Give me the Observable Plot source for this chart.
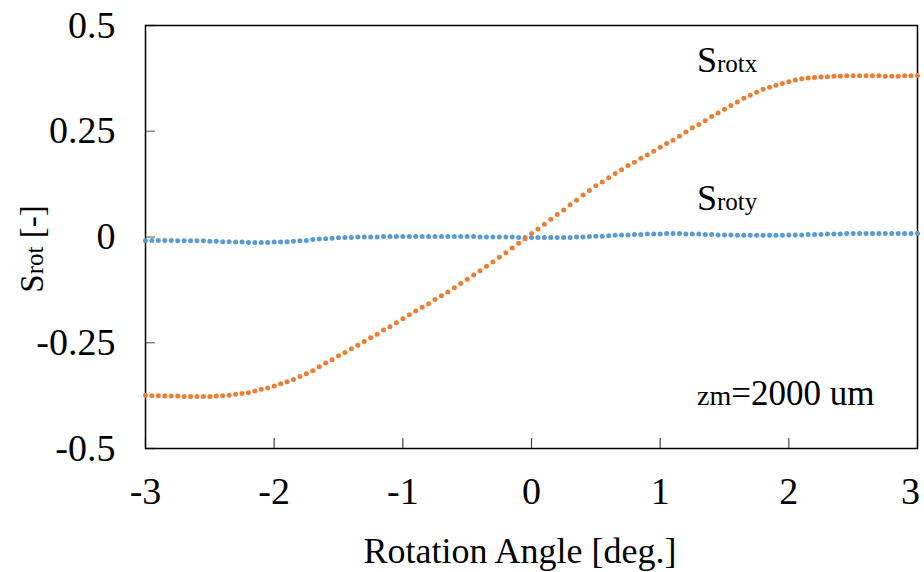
<!DOCTYPE html>
<html><head><meta charset="utf-8">
<script src="https://cdn.jsdelivr.net/npm/d3@7"></script>
<script src="https://cdn.jsdelivr.net/npm/@observablehq/plot@0.6"></script>
<style>html,body{margin:0;padding:0;background:#fff}svg{display:block}</style>
</head><body><div id="chart"></div>
<script>
// Rotation angle samples (deg): -3 to 3 every 0.05
const angleStart = -3, angleStep = 0.05, angleCount = 121;
const angles = d3.range(angleCount).map(i => +(angleStart + i * angleStep).toFixed(2));

// S_rotx values
const srotx = [
  -0.374,-0.375,-0.375,-0.376,-0.376,-0.376,-0.377,-0.377,-0.377,-0.377,-0.377,-0.376,-0.375,-0.374,
  -0.372,-0.370,-0.368,-0.364,-0.360,-0.357,-0.352,-0.347,-0.342,-0.337,-0.330,-0.323,-0.316,-0.307,
  -0.298,-0.290,-0.281,-0.273,-0.264,-0.256,-0.247,-0.238,-0.230,-0.220,-0.212,-0.203,-0.193,-0.184,
  -0.175,-0.166,-0.158,-0.148,-0.139,-0.130,-0.120,-0.110,-0.100,-0.090,-0.080,-0.069,-0.059,-0.048,
  -0.037,-0.026,-0.015,-0.004,
  0.008,0.019,0.030,0.042,0.053,0.064,0.076,0.087,0.099,0.110,0.121,0.130,0.140,0.150,0.159,0.169,
  0.177,0.186,0.194,0.203,0.212,0.221,0.229,0.238,0.248,0.258,0.266,0.275,0.285,0.293,0.302,0.311,
  0.319,0.328,0.335,0.342,0.349,0.354,0.359,0.363,0.367,0.371,0.374,0.376,0.377,0.378,0.379,
  0.380,0.380,0.381,0.381,0.381,0.381,0.381,0.381,0.380,0.380,0.380,0.381,0.381,0.382
];

// S_roty values
const sroty = [
  -0.008,-0.008,-0.008,-0.008,-0.008,-0.009,-0.009,-0.009,-0.009,-0.009,-0.010,
  -0.010,-0.011,-0.011,-0.012,-0.012,-0.013,-0.013,-0.013,-0.013,-0.012,-0.012,-0.011,
  -0.010,-0.009,-0.008,-0.006,-0.005,-0.004,-0.003,-0.002,-0.001,-0.001,0.000,0.000,
  0.000,0.000,0.001,0.001,0.001,0.001,0.001,0.001,0.001,0.001,0.001,0.001,0.001,0.001,0.001,0.001,0.001,
  0.000,0.000,0.000,0.000,0.000,0.000,-0.001,-0.001,
  -0.001,-0.001,-0.001,-0.001,-0.001,-0.001,-0.001,0.000,0.000,0.001,0.002,0.002,0.003,0.004,0.005,
  0.005,0.006,0.006,0.007,0.007,0.007,0.008,0.008,0.008,0.007,0.007,0.007,
  0.006,0.006,0.005,0.005,0.005,0.004,0.004,0.004,0.004,0.004,0.004,0.004,0.004,0.005,0.005,0.005,0.006,0.006,
  0.006,0.007,0.007,0.007,0.008,0.008,0.008,0.008,0.008,0.008,0.008,0.008,0.008,0.008,0.008,0.008
];

const xTicks = [-3, -2, -1, 0, 1, 2, 3];
const yTicks = [-0.5, -0.25, 0, 0.25, 0.5];
const xTitle = "Rotation Angle [deg.]";
const labels = [
  {x: 1.29, y: 0.389, main: "S", sub: "rotx"},
  {x: 1.29, y: 0.063, main: "S", sub: "roty"}
];
const note = {x: 1.29, y: -0.398, sub: "zm", tail: "=2000 um"};

const data = angles.map((a, i) => ({a, sx: srotx[i], sy: sroty[i]}));

const W = 924, H = 572, mL = 145, mR = 7, mT = 25, mB = 124;
const FT = 38, FA = 36, FS = 25;
const font = "'Liberation Serif', 'Times New Roman', serif";
const fmt = d => String(d);

const plot = Plot.plot({
  width: W, height: H,
  marginLeft: mL, marginRight: mR, marginTop: mT, marginBottom: mB,
  style: {fontFamily: font, fontSize: FT + "px", color: "#000", background: "#fff", overflow: "visible"},
  x: {domain: [-3, 3], label: null},
  y: {domain: [-0.5, 0.5], label: null},
  marks: [
    Plot.tickY(yTicks, {y: d => d, stroke: "#888", strokeWidth: 1.5, insetRight: W - mL - mR - 10}),
    Plot.tickX(xTicks, {x: d => d, stroke: "#444", strokeWidth: 1.2, insetTop: H - mT - mB - 10}),
    Plot.frame({stroke: "#000", strokeWidth: 1.5}),
    Plot.axisX(xTicks.slice(0, -1), {tickSize: 0, tickPadding: 29, tickFormat: fmt, fontSize: FT, label: null}),
    Plot.axisX(xTicks.slice(-1), {tickSize: 0, tickPadding: 29, tickFormat: fmt, fontSize: FT, label: null, dx: -7}),
    Plot.axisY(yTicks, {tickSize: 0, tickPadding: 30, tickFormat: fmt, fontSize: FT, label: null}),
    Plot.dot(data, {x: "a", y: "sy", r: 2.5, fill: "#5B9BD5"}),
    Plot.dot(data, {x: "a", y: "sx", r: 2.5, fill: "#ED7D31"})
  ]
});
document.getElementById("chart").appendChild(plot);

const svg = d3.select(plot);
const sx = plot.scale("x"), sy = plot.scale("y");

// series labels
for (const l of labels) {
  const t = svg.append("text").attr("x", sx.apply(l.x)).attr("y", sy.apply(l.y))
    .attr("text-anchor", "start").attr("font-family", font).attr("fill", "#000");
  t.append("tspan").attr("font-size", FA).text(l.main);
  t.append("tspan").attr("font-size", FS).text(l.sub);
}
{
  const t = svg.append("text").attr("x", sx.apply(note.x)).attr("y", sy.apply(note.y))
    .attr("text-anchor", "start").attr("font-family", font).attr("fill", "#000");
  t.append("tspan").attr("font-size", 28).text(note.sub);
  t.append("tspan").attr("font-size", 35).text(note.tail);
}

// axis titles
svg.append("text").attr("x", 520).attr("y", 563).attr("text-anchor", "middle")
  .attr("font-family", font).attr("font-size", FA).attr("fill", "#000").text(xTitle);
{
  const t = svg.append("text").attr("transform", "translate(43,249) rotate(-90)")
    .attr("text-anchor", "middle").attr("font-family", font).attr("fill", "#000");
  t.append("tspan").attr("font-size", 33).text("S");
  t.append("tspan").attr("font-size", 25).text("rot");
  t.append("tspan").attr("font-size", 33).text(" [-]");
}
</script></body></html>
